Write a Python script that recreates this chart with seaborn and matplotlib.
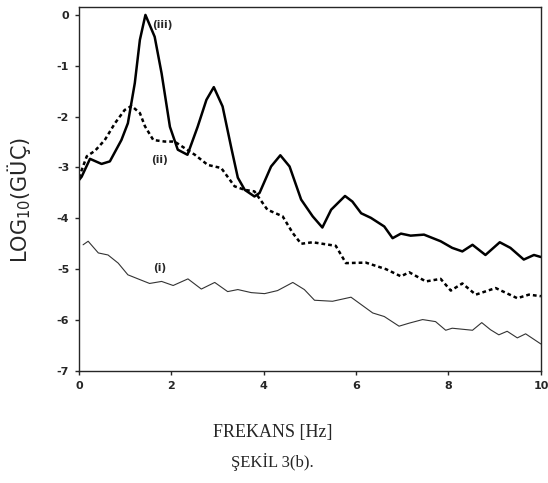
import matplotlib
matplotlib.use("Agg")
import matplotlib.pyplot as plt
import seaborn as sns
import pandas as pd

sns.set_style("ticks")
plt.rcParams['font.family'] = ['DejaVu Sans']

# (iii) thick solid
freq_iii = [0.0, 0.06, 0.24, 0.49, 0.67, 0.92, 1.06, 1.21, 1.32, 1.44, 1.64, 1.79, 1.97, 2.14, 2.35,
            2.57, 2.76, 2.92, 3.11, 3.3, 3.44, 3.59, 3.8, 3.91, 4.16, 4.36, 4.56, 4.81, 5.06, 5.27,
            5.46, 5.76, 5.92, 6.11, 6.32, 6.61, 6.79, 6.97, 7.18, 7.47, 7.83, 8.08, 8.3, 8.52, 8.8,
            9.11, 9.34, 9.63, 9.85, 10.0]
pow_iii = [-3.25, -3.18, -2.83, -2.93, -2.88, -2.46, -2.13, -1.34, -0.49, 0.0, -0.43, -1.15, -2.2, -2.65, -2.75,
           -2.2, -1.67, -1.42, -1.8, -2.62, -3.2, -3.44, -3.57, -3.5, -2.98, -2.76, -2.98, -3.63, -3.96, -4.18,
           -3.83, -3.56, -3.67, -3.9, -3.99, -4.16, -4.39, -4.3, -4.34, -4.32, -4.45, -4.58, -4.65, -4.52, -4.72,
           -4.47, -4.58, -4.81, -4.72, -4.76]

# (ii) dotted
freq_ii = [0.0, 0.17, 0.35, 0.56, 0.78, 0.99, 1.14, 1.32, 1.43, 1.61, 1.86, 2.07, 2.29, 2.51, 2.79,
           3.08, 3.37, 3.59, 3.8, 4.08, 4.41, 4.63, 4.81, 5.06, 5.56, 5.78, 6.21, 6.65, 6.97, 7.15,
           7.51, 7.83, 8.05, 8.3, 8.59, 9.02, 9.49, 9.74, 10.0]
pow_ii = [-3.2, -2.78, -2.67, -2.46, -2.13, -1.87, -1.79, -1.93, -2.19, -2.46, -2.49, -2.49, -2.62, -2.75, -2.95,
          -3.01, -3.37, -3.44, -3.47, -3.83, -3.96, -4.29, -4.5, -4.47, -4.54, -4.88, -4.87, -5.0, -5.14, -5.06,
          -5.24, -5.19, -5.42, -5.28, -5.5, -5.37, -5.57, -5.5, -5.53]

# (i) thin solid
freq_i = [0.09, 0.2, 0.42, 0.63, 0.85, 1.06, 1.28, 1.53, 1.79, 2.04, 2.36, 2.65, 2.94, 3.22, 3.44,
          3.73, 4.02, 4.3, 4.63, 4.88, 5.1, 5.49, 5.89, 6.36, 6.61, 6.93, 7.15, 7.44, 7.72, 7.94,
          8.08, 8.52, 8.72, 8.91, 9.09, 9.27, 9.49, 9.67, 10.0]
pow_i = [-4.52, -4.45, -4.68, -4.72, -4.88, -5.11, -5.19, -5.28, -5.24, -5.32, -5.19, -5.39, -5.26, -5.44, -5.4,
         -5.46, -5.48, -5.42, -5.26, -5.4, -5.61, -5.63, -5.55, -5.86, -5.93, -6.12, -6.06, -5.99, -6.03, -6.2,
         -6.16, -6.2, -6.05, -6.19, -6.29, -6.22, -6.35, -6.27, -6.47]

x_ticks = [0, 2, 4, 6, 8, 10]
y_ticks = [0, -1, -2, -3, -4, -5, -6, -7]

df_iii = pd.DataFrame({"f": freq_iii, "p": pow_iii})
df_ii = pd.DataFrame({"f": freq_ii, "p": pow_ii})
df_i = pd.DataFrame({"f": freq_i, "p": pow_i})

fig = plt.figure(figsize=(5.48, 4.83), dpi=100)
ax = fig.add_axes([0.144, 0.232, 0.843, 0.754])

sns.lineplot(data=df_iii, x="f", y="p", ax=ax, color="black", linewidth=1.8, sort=False)
sns.lineplot(data=df_ii, x="f", y="p", ax=ax, color="black", linewidth=1.8, sort=False,
             linestyle=(0, (1.5, 1.2)))
sns.lineplot(data=df_i, x="f", y="p", ax=ax, color="#333333", linewidth=0.8, sort=False)

ax.set_xlim(0, 10)
ax.set_ylim(-7, 0.16)
ax.set_xticks(x_ticks)
ax.set_yticks(y_ticks)
ax.set_xticklabels([str(t) for t in x_ticks], fontsize=8, fontweight="bold")
ax.set_yticklabels([str(t) for t in y_ticks], fontsize=8, fontweight="bold")
ax.tick_params(direction="out", length=3, width=1, pad=4)
for s in ax.spines.values():
    s.set_visible(True)
    s.set_linewidth(1.0)

ax.set_xlabel("")
ax.set_ylabel(r"LOG$_{10}$(GÜÇ)", fontsize=15)
ax.yaxis.set_label_coords(-0.10, 0.47)

ax.text(1.8, -0.2, "(iii)", fontsize=7.5, fontweight="bold", ha="center", va="center")
ax.text(1.75, -2.85, "(ii)", fontsize=7.5, fontweight="bold", ha="center", va="center")
ax.text(1.75, -4.98, "(i)", fontsize=7.5, fontweight="bold", ha="center", va="center")

fig.text(0.497, 1 - 433 / 483, "FREKANS [Hz]", family="Liberation Serif", fontsize=13,
         ha="center", va="center")
fig.text(0.497, 1 - 462 / 483, "ŞEKİL 3(b).", family="Liberation Serif", fontsize=12,
         ha="center", va="center")

fig.savefig("out.png", dpi=100)
